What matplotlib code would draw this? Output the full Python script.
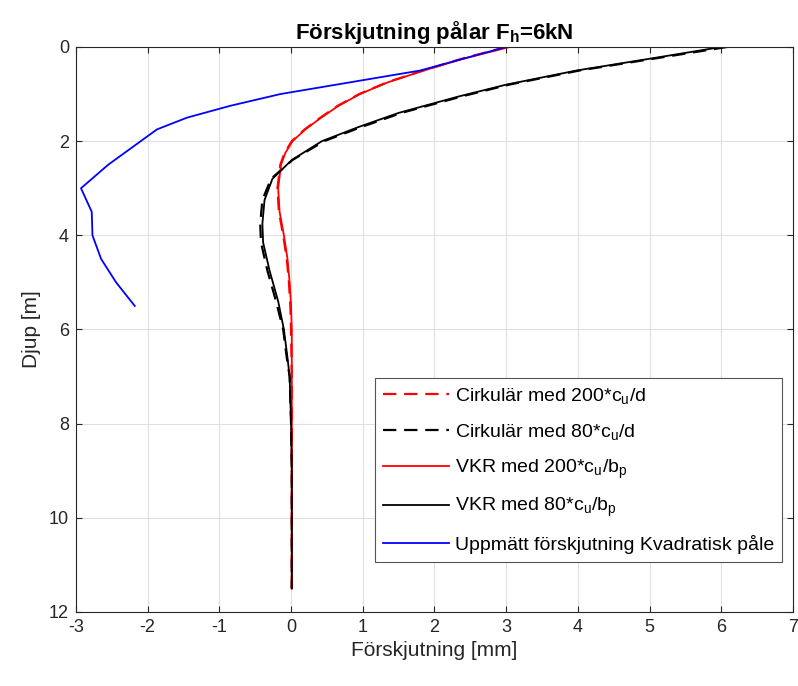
'''
Förskjutning för pålar, jämförelse av beräknade och uppmätta värden
'''
import matplotlib
matplotlib.use('Agg')
import matplotlib.pyplot as plt

plt.rcParams['font.family'] = ['Liberation Sans', 'DejaVu Sans']
plt.rcParams['mathtext.fontset'] = 'custom'
plt.rcParams['mathtext.rm'] = 'Liberation Sans'
plt.rcParams['mathtext.it'] = 'Liberation Sans:italic'
plt.rcParams['mathtext.bf'] = 'Liberation Sans:bold'
plt.rcParams['axes.unicode_minus'] = False

# depth [m] and displacement [mm]
djupCirk200 = [0, 0.25, 0.5, 0.75, 1.0, 1.25, 1.5, 1.75, 2.0, 2.25, 2.5, 3.0, 3.5, 4.0, 4.5, 5.0, 5.5, 6.0, 7.0, 8.0, 9.0, 10.0, 11.0, 11.5]
forsCirk200 = [3.0, 2.38, 1.84, 1.34, 0.95, 0.65, 0.41, 0.19, 0.01, -0.09, -0.15, -0.19, -0.17, -0.11, -0.06, -0.03, -0.01, 0.0, 0.01, 0.01, 0.01, 0.01, 0.01, 0.01]

djupVkr200 = [0, 0.25, 0.5, 0.75, 1.0, 1.25, 1.5, 1.75, 2.0, 2.25, 2.5, 3.0, 3.5, 4.0, 4.5, 5.0, 5.5, 6.0, 7.0, 8.0, 9.0, 10.0, 11.0, 11.5]
forsVkr200 = [3.05, 2.4, 1.85, 1.35, 0.96, 0.66, 0.42, 0.2, 0.02, -0.08, -0.14, -0.18, -0.16, -0.1, -0.05, -0.02, 0.0, 0.01, 0.01, 0.01, 0.01, 0.01, 0.01, 0.01]

djupCirk80 = [0, 0.25, 0.5, 0.8, 1.05, 1.4, 1.7, 2.0, 2.4, 2.8, 3.25, 3.75, 4.15, 4.75, 5.4, 6.0, 6.6, 7.0, 8.0, 9.0, 10.0, 11.0, 11.5]
forsCirk80 = [6.08, 5.05, 4.02, 3.04, 2.38, 1.54, 0.98, 0.46, 0.02, -0.28, -0.4, -0.43, -0.42, -0.33, -0.21, -0.11, -0.06, -0.02, 0.0, 0.01, 0.01, 0.01, 0.01]

djupVkr80 = [0, 0.25, 0.5, 0.8, 1.05, 1.4, 1.7, 2.0, 2.4, 2.8, 3.25, 3.75, 4.15, 4.75, 5.4, 6.0, 6.6, 7.0, 8.0, 9.0, 10.0, 11.0, 11.5]
forsVkr80 = [6.0, 5.0, 3.98, 3.0, 2.34, 1.5, 0.94, 0.43, 0.01, -0.26, -0.37, -0.4, -0.39, -0.3, -0.18, -0.1, -0.05, -0.02, 0.0, 0.01, 0.01, 0.01, 0.01]

djupMatt = [0, 0.5, 1.0, 1.25, 1.5, 1.75, 2.5, 3.0, 3.5, 4.0, 4.5, 5.0, 5.5]
forsMatt = [3.0, 1.8, -0.15, -0.85, -1.45, -1.87, -2.55, -2.93, -2.78, -2.77, -2.65, -2.44, -2.18]

etiketter = ['Cirkulär med 200*c$_\\mathrm{u}$/d',
             'Cirkulär med 80*c$_\\mathrm{u}$/d',
             'VKR med 200*c$_\\mathrm{u}$/b$_\\mathrm{p}$',
             'VKR med 80*c$_\\mathrm{u}$/b$_\\mathrm{p}$',
             'Uppmätt förskjutning Kvadratisk påle']


def main():
    fig = plt.figure(figsize=(7.98, 6.86), dpi=100)
    ax = fig.add_axes([0.0952, 0.1079, 0.8985, 0.8236])

    ax.plot(forsCirk200, djupCirk200, color='red', ls=(0, (6, 3.5)), lw=1.6, label=etiketter[0])
    ax.plot(forsCirk80, djupCirk80, color='black', ls=(0, (6, 3.5)), lw=1.6, label=etiketter[1])
    ax.plot(forsVkr200, djupVkr200, color='red', lw=1.3, label=etiketter[2])
    ax.plot(forsVkr80, djupVkr80, color='black', lw=1.3, label=etiketter[3])
    ax.plot(forsMatt, djupMatt, color='blue', lw=1.3, label=etiketter[4])

    ax.set_xlim(-3, 7)
    ax.set_ylim(12, 0)
    ax.set_xticks(range(-3, 8))
    ax.set_yticks(range(0, 13, 2))
    ax.grid(True, color='#e0e0e0', lw=0.8)
    ax.set_axisbelow(True)
    ax.tick_params(direction='in', top=True, right=True, labelsize=13, length=4,
                   colors='#262626', pad=5)
    for s in ax.spines.values():
        s.set_color('#262626')
        s.set_linewidth(0.8)

    ax.set_xlabel('Förskjutning [mm]', fontsize=15, color='#262626', labelpad=4)
    ax.set_ylabel('Djup [m]', fontsize=15, color='#262626', labelpad=6)
    ax.set_title('Förskjutning pålar F$_\\mathbf{h}$=6kN', fontsize=16, fontweight='bold', pad=6)

    leg = ax.legend(loc='lower right', bbox_to_anchor=(0.9843, 0.0891), fontsize=14,
                    fancybox=False, framealpha=1, edgecolor='#555555', handlelength=3.4,
                    handletextpad=0.3, labelspacing=0.8, borderpad=0.4, borderaxespad=0)
    leg.get_frame().set_linewidth(0.8)

    fig.savefig('out.png', dpi=100)


if __name__ == '__main__':
    main()
